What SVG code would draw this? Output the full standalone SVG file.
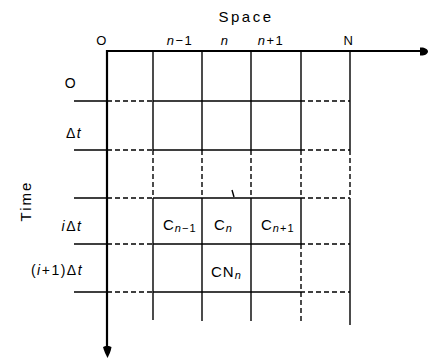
<svg xmlns="http://www.w3.org/2000/svg" width="428" height="364" viewBox="0 0 428 364">
<style>
.g{stroke:#000;stroke-width:1.4;fill:none}
.d{stroke:#000;stroke-width:1.4;fill:none;stroke-dasharray:5 3}
.ax{stroke:#000;stroke-width:2.2;fill:none}
text{font-family:"Liberation Sans",Arial,sans-serif;fill:#000}
.lb{font-size:13px;letter-spacing:1.5px}
.ll{font-size:14px;letter-spacing:1.5px}
.cl{font-size:15px;letter-spacing:1px}
.it{font-style:italic}
.sub{font-size:11px}
</style>
<rect width="428" height="364" fill="#fff"/>
<g id="grid">
<g id="h101"><path class="g" d="M74 101H107M153 101H300"/><path class="d" d="M107 101H153M300 101H350"/></g>
<g id="h150"><path class="g" d="M74 150H107M153 150H300"/><path class="d" d="M107 150H153M300 150H350"/></g>
<g id="h198"><path class="g" d="M74 198H107M153 198H300"/><path class="d" d="M107 198H153M300 198H350"/></g>
<g id="h244"><path class="g" d="M74 244H107M153 244H300"/><path class="d" d="M107 244H153M300 244H350"/></g>
<g id="h292"><path class="g" d="M74 292H107M153 292H300"/><path class="d" d="M107 292H153M300 292H350"/></g>
<g id="v153"><path class="g" d="M153 51V150M153 198V320"/><path class="d" d="M153 150V198"/></g>
<g id="v202"><path class="g" d="M202 51V150M202 198V321"/><path class="d" d="M202 150V198"/></g>
<g id="v251"><path class="g" d="M251 51V150M251 198V321"/><path class="d" d="M251 150V198"/></g>
<g id="v301"><path class="g" d="M301 51V150M301 198V244"/><path class="d" d="M301 150V198M301 244V321"/></g>
<g id="v350"><path class="g" d="M350 51V150M350 198V325"/><path class="d" d="M350 150V198"/></g>
<path class="g" d="M232 190L234 197" stroke-width="1"/>
</g>
<g id="axes">
<path class="ax" d="M106 51H421"/>
<path d="M420 47.5C424 47 428 49 428 51.5C428 54 424 56 420 55.5Z" fill="#000"/>
<path class="ax" d="M107 50V348"/>
<path d="M103 347C104 351 106 355 107.5 358C109 355 111 351 111.5 347C110 345.5 104.5 345.5 103 347Z" fill="#000"/>
</g>
<g id="labels">
<text x="246" y="22" font-size="15" letter-spacing="2.5" text-anchor="middle">Space</text>
<text x="102" y="45" class="lb" text-anchor="middle">O</text>
<text x="180" y="45" class="lb" text-anchor="middle"><tspan class="it">n</tspan>−1</text>
<text x="225" y="45" class="lb it" text-anchor="middle">n</text>
<text x="271" y="45" class="lb" text-anchor="middle"><tspan class="it">n</tspan>+1</text>
<text x="349" y="45" class="lb" text-anchor="middle">N</text>
<text x="71" y="88" class="ll" text-anchor="middle">O</text>
<text x="74" y="138" class="ll" text-anchor="middle">Δ<tspan class="it">t</tspan></text>
<text x="72" y="231" class="ll" text-anchor="middle"><tspan class="it">i</tspan>Δ<tspan class="it">t</tspan></text>
<text x="57" y="275" class="ll" letter-spacing="2" text-anchor="middle">(<tspan class="it">i</tspan>+1)Δ<tspan class="it">t</tspan></text>
<text transform="translate(31 201) rotate(-90)" font-size="15" letter-spacing="2" text-anchor="middle">Time</text>
<text x="163" y="230" class="cl">C<tspan class="sub" dy="2"><tspan class="it">n</tspan>−1</tspan></text>
<text x="214" y="230" class="cl">C<tspan class="sub it" dy="2">n</tspan></text>
<text x="261" y="230" class="cl">C<tspan class="sub" dy="2"><tspan class="it">n</tspan>+1</tspan></text>
<text x="211" y="277" class="cl">CN<tspan class="sub it" dy="2">n</tspan></text>
</g>
</svg>
